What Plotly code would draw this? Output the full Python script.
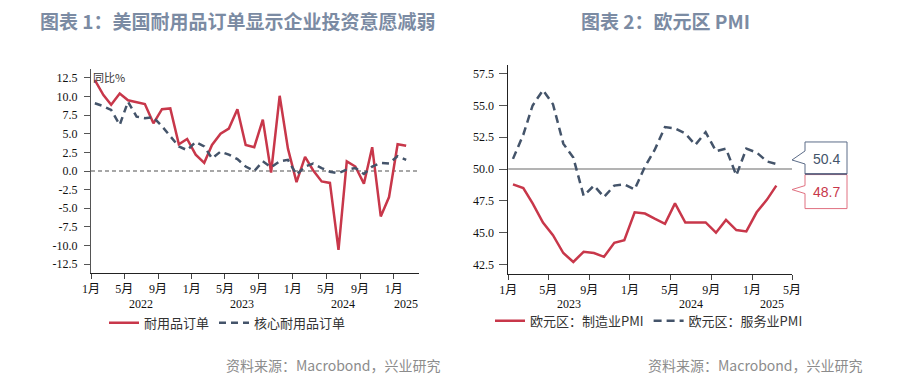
import plotly.graph_objects as go
import pandas as pd

# ---------------- data ----------------
left_start = "2022-01-01"
durable_orders = [12.2, 10.2, 8.9, 10.4, 9.5, 9.2, 9.0, 6.4, 8.3, 8.4, 3.6, 4.3,
                  2.2, 1.1, 3.5, 5.0, 5.7, 8.3, 3.5, 3.2, 6.9, -0.2, 10.1, 3.0,
                  -1.5, 1.9, 0.1, -1.4, -1.6, -10.6, 1.3, 0.6, -1.7, 3.2, -6.1, -3.5,
                  3.6, 3.4]
core_orders = [9.1, 8.7, 8.2, 6.2, 9.3, 7.3, 7.1, 7.2, 6.0, 4.6, 3.3, 2.8,
               3.9, 3.3, 1.7, 2.6, 2.2, 1.6, 0.6, 0.0, 1.3, 0.5, 1.3, 1.5,
               -0.5, 0.6, 1.0, 0.4, -0.1, -0.3, 0.2, 0.4, -0.4, 0.6, 1.1, 1.0,
               2.0, 1.5]

right_start = "2023-01-01"
mfg_pmi = [48.8, 48.5, 47.3, 45.8, 44.8, 43.4, 42.7, 43.5, 43.4, 43.1, 44.2, 44.4,
           46.6, 46.5, 46.1, 45.7, 47.3, 45.8, 45.8, 45.8, 45.0, 46.0, 45.2, 45.1,
           46.6, 47.6, 48.7]
svc_pmi = [50.8, 52.7, 55.0, 56.2, 55.1, 52.0, 50.9, 47.9, 48.7, 47.8, 48.7, 48.8,
           48.4, 50.2, 51.5, 53.3, 53.2, 52.8, 51.9, 52.9, 51.4, 51.6, 49.5, 51.6,
           51.3, 50.6, 50.4]

left_tick_dates = ["2022-01-01", "2022-05-01", "2022-09-01", "2023-01-01", "2023-05-01",
                   "2023-09-01", "2024-01-01", "2024-05-01", "2024-09-01", "2025-01-01"]
left_tick_text = ["1月", "5月", "9月", "1月", "5月", "9月", "1月", "5月", "9月", "1月"]
left_years = ["2022", "2023", "2024", "2025"]
left_year_pos = ["2022-07-01", "2023-07-01", "2024-07-01", "2025-02-15"]
left_y_ticks = [12.5, 10.0, 7.5, 5.0, 2.5, 0.0, -2.5, -5.0, -7.5, -10.0, -12.5]

right_tick_dates = ["2023-01-01", "2023-05-01", "2023-09-01", "2024-01-01", "2024-05-01",
                    "2024-09-01", "2025-01-01", "2025-05-01"]
right_tick_text = ["1月", "5月", "9月", "1月", "5月", "9月", "1月", "5月"]
right_years = ["2023", "2024", "2025"]
right_year_pos = ["2023-07-01", "2024-07-01", "2025-03-01"]
right_y_ticks = [57.5, 55.0, 52.5, 50.0, 47.5, 45.0, 42.5]

left_ref = 0
right_ref = 50

RED = "#c8374a"
BLUE = "#44546a"

left_dates = pd.date_range(left_start, periods=len(durable_orders), freq="MS") + pd.Timedelta(days=14)
right_dates = pd.date_range(right_start, periods=len(mfg_pmi), freq="MS") + pd.Timedelta(days=14)

W, H = 902, 386
OFF = 8  # page body margin


def sx(s):
    return (s - OFF) / W


def sy(s):
    return 1 - (s - OFF) / H


fig = go.Figure()

fig.add_trace(go.Scatter(x=left_dates, y=durable_orders, mode="lines", name="耐用品订单",
                         line=dict(color=RED, width=2.5), xaxis="x", yaxis="y", legend="legend"))
fig.add_trace(go.Scatter(x=left_dates, y=core_orders, mode="lines", name="核心耐用品订单",
                         line=dict(color=BLUE, width=2.5, dash="7px,5px"), xaxis="x", yaxis="y",
                         legend="legend"))
fig.add_trace(go.Scatter(x=right_dates, y=mfg_pmi, mode="lines", name="欧元区：制造业PMI",
                         line=dict(color=RED, width=2.5), xaxis="x2", yaxis="y2", legend="legend2"))
fig.add_trace(go.Scatter(x=right_dates, y=svc_pmi, mode="lines", name="欧元区：服务业PMI",
                         line=dict(color=BLUE, width=2.5, dash="8px,5px"), xaxis="x2", yaxis="y2",
                         legend="legend2"))

tickfont = dict(family="Liberation Serif, Noto Sans CJK SC", size=12, color="#111111")

xcommon = dict(type="date", showgrid=False, zeroline=False, showline=True, linecolor="#222222",
               linewidth=1, ticks="outside", ticklen=5, tickcolor="#444444", tickfont=tickfont,
               automargin=False)
ycommon = dict(showgrid=False, zeroline=False, showline=True, linewidth=1, ticks="outside",
               tickcolor="#555555", tickfont=tickfont, automargin=False)

legend_font = dict(family="Noto Sans CJK SC", size=13, color="#333333")

fig.update_layout(
    width=W, height=H,
    margin=dict(l=0, r=0, t=0, b=0),
    paper_bgcolor="white", plot_bgcolor="white",
    showlegend=True,
    xaxis=dict(xcommon, domain=[sx(91), sx(418.6)], anchor="y",
               range=["2022-01-01", "2025-04-01"],
               tickvals=left_tick_dates, ticktext=left_tick_text),
    yaxis=dict(ycommon, domain=[sy(273), sy(69)], anchor="x", range=[-13.7, 13.7],
               tickvals=left_y_ticks, ticktext=[f"{v:.1f}" for v in left_y_ticks],
               linecolor="#555555", ticklen=6, ticklabelstandoff=4),
    xaxis2=dict(xcommon, domain=[sx(508.3), sx(792)], anchor="y2",
                range=["2023-01-01", "2025-05-01"],
                tickvals=right_tick_dates, ticktext=right_tick_text),
    yaxis2=dict(ycommon, domain=[sy(274), sy(65)], anchor="x2", range=[41.75, 58.18],
                tickvals=right_y_ticks, ticktext=[f"{v:.1f}" for v in right_y_ticks],
                linecolor="#222222", ticklen=8, ticklabelstandoff=3),
    legend=dict(orientation="h", x=sx(104), y=sy(322.7), xanchor="left", yanchor="middle",
                font=legend_font, bgcolor="rgba(0,0,0,0)", itemwidth=30),
    legend2=dict(orientation="h", x=sx(490), y=sy(320.7), xanchor="left", yanchor="middle",
                 font=legend_font, bgcolor="rgba(0,0,0,0)", itemwidth=30),
)

# reference lines
fig.add_shape(type="line", xref="x domain", yref="y", x0=0, x1=1, y0=left_ref, y1=left_ref,
              line=dict(color="#8a8a8a", width=1.5, dash="4px,3px"), layer="below")
fig.add_shape(type="line", xref="x2 domain", yref="y2", x0=0, x1=1, y0=right_ref, y1=right_ref,
              line=dict(color="#9a9a9a", width=1.5), layer="below")

# year labels
for yr, pos in zip(left_years, left_year_pos):
    fig.add_annotation(x=pos, xref="x", y=sy(304), yref="paper", text=yr, showarrow=False,
                       font=tickfont, yanchor="middle")
for yr, pos in zip(right_years, right_year_pos):
    fig.add_annotation(x=pos, xref="x2", y=sy(304), yref="paper", text=yr, showarrow=False,
                       font=tickfont, yanchor="middle")

# unit label
fig.add_annotation(x=sx(91), y=sy(77), xref="paper", yref="paper", text="同比%",
                   showarrow=False, xanchor="left", yanchor="middle",
                   font=dict(family="Noto Sans CJK SC", size=11, color="#333333"))

# callouts for last values
last_svc = svc_pmi[-1]
last_mfg = mfg_pmi[-1]
fig.add_shape(type="path", xref="x2 domain", yref="y2", xsizemode="pixel", ysizemode="pixel",
              xanchor=1, yanchor=last_svc,
              path="M 13,22 L 55,22 L 55,-10 L 13,-10 L 13,0 L 0,4 L 13,13 Z",
              fillcolor="white", line=dict(color="#5c6c88", width=1))
fig.add_shape(type="path", xref="x2 domain", yref="y2", xsizemode="pixel", ysizemode="pixel",
              xanchor=1, yanchor=last_mfg,
              path="M 13,11 L 55,11 L 55,-23 L 13,-23 L 13,-8 L 0,-4 L 13,0 Z",
              fillcolor="white", line=dict(color="#e07080", width=1))
fig.add_shape(type="line", xref="x2 domain", yref="y2", xsizemode="pixel", ysizemode="pixel",
              xanchor=1, yanchor=last_svc, x0=13, x1=55, y0=-10, y1=-10,
              line=dict(color="#4e5a7a", width=1.5))
fig.add_annotation(xref="x2 domain", x=1, xshift=34, xanchor="center", yref="y2", y=last_svc,
                   yshift=5, yanchor="middle", text=f"{last_svc:.1f}", showarrow=False,
                   font=dict(family="Liberation Sans", size=14, color=BLUE))
fig.add_annotation(xref="x2 domain", x=1, xshift=34, xanchor="center", yref="y2", y=last_mfg,
                   yshift=-6, yanchor="middle", text=f"{last_mfg:.1f}", showarrow=False,
                   font=dict(family="Liberation Sans", size=14, color=RED))

# titles
title_font = dict(family="Noto Sans CJK SC", size=19, color="#7b8ba3", weight="bold")
fig.add_annotation(x=sx(38), y=sy(20), xref="paper", yref="paper", text="图表 1：美国耐用品订单显示企业投资意愿减弱",
                   showarrow=False, xanchor="left", yanchor="middle", font=title_font)
fig.add_annotation(x=sx(579), y=sy(20), xref="paper", yref="paper", text="图表 2：欧元区 PMI",
                   showarrow=False, xanchor="left", yanchor="middle", font=title_font)

# sources
src_font = dict(family="Noto Sans CJK SC", size=14, color="#8c8c8c")
fig.add_annotation(x=sx(443), y=sy(365), xref="paper", yref="paper", text="资料来源：Macrobond，兴业研究",
                   showarrow=False, xanchor="right", yanchor="middle", font=src_font)
fig.add_annotation(x=sx(865), y=sy(365), xref="paper", yref="paper", text="资料来源：Macrobond，兴业研究",
                   showarrow=False, xanchor="right", yanchor="middle", font=src_font)

fig.write_html("out.html")
